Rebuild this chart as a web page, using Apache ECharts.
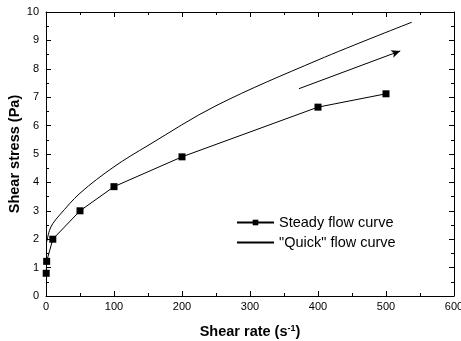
<!DOCTYPE html>
<html><head><meta charset="utf-8">
<script src="https://cdn.jsdelivr.net/npm/echarts@6/dist/echarts.min.js"></script>
<style>html,body{margin:0;padding:0;background:#fff}#c{width:461px;height:341px}</style>
</head><body><div id="c"></div>
<script>
const steadyX = [0.3, 1, 10, 50, 100, 200, 400, 500];
const steadyY = [0.8, 1.22, 2.0, 3.0, 3.85, 4.9, 6.65, 7.12];
const quickX = [1, 5, 10, 20, 50, 100, 150, 250, 400, 538];
const quickY = [1.9, 2.3, 2.55, 2.85, 3.62, 4.55, 5.3, 6.7, 8.31, 9.64];
const arrowStart = [372, 7.3];
const arrowEnd = [521, 8.63];
const xTicks = {min: 0, max: 600, interval: 100};
const yTicks = {min: 0, max: 10, interval: 1};
const names = ['Steady flow curve', '"Quick" flow curve'];

const F = 'Liberation Sans, Arial, sans-serif';
const chart = echarts.init(document.getElementById('c'), null, {renderer: 'canvas'});
const axBase = {
  axisLine: {show: true, onZero: false, lineStyle: {color: '#000', width: 1}},
  axisTick: {show: true, inside: true, length: 5, lineStyle: {color: '#000'}},
  minorTick: {show: true, splitNumber: 2, length: 3, lineStyle: {color: '#000'}},
  splitLine: {show: false}
};
chart.setOption({
  animation: false,
  textStyle: {fontFamily: F},
  grid: {left: 46, right: 7, top: 12, bottom: 45, containLabel: false, outerBoundsMode: 'none'},
  legend: {
    orient: 'vertical', left: 231, top: 210, itemWidth: 37, itemHeight: 7, itemGap: 5,
    textStyle: {fontSize: 14.5, color: '#000', fontFamily: F},
    data: [
      {name: names[0]},
      {name: names[1], itemStyle: {color: 'rgba(0,0,0,0)', borderWidth: 0, borderColor: 'rgba(0,0,0,0)'}}
    ]
  },
  xAxis: [
    Object.assign({}, axBase, {type: 'value', position: 'bottom', min: xTicks.min, max: xTicks.max, interval: xTicks.interval,
      axisLabel: {color: '#000', fontSize: 11, margin: 5, fontFamily: F},
      name: 'Shear rate (s{sup|-1})', nameLocation: 'middle', nameGap: 28, nameMoveOverlap: false,
      nameTextStyle: {fontSize: 14.5, fontWeight: 'bold', color: '#000', fontFamily: F,
        rich: {sup: {fontSize: 9, fontWeight: 'bold', color: '#000', fontFamily: F, padding: [0,0,7,0]}}}
    }),
    Object.assign({}, axBase, {type: 'value', position: 'top', min: xTicks.min, max: xTicks.max, interval: xTicks.interval,
      axisLabel: {show: false}})
  ],
  yAxis: [
    Object.assign({}, axBase, {type: 'value', position: 'left', min: yTicks.min, max: yTicks.max, interval: yTicks.interval,
      axisLabel: {color: '#000', fontSize: 11, margin: 7, fontFamily: F},
      name: 'Shear stress (Pa)', nameLocation: 'middle', nameGap: 24, nameMoveOverlap: false,
      nameTextStyle: {fontSize: 14.5, fontWeight: 'bold', color: '#000', fontFamily: F}
    }),
    Object.assign({}, axBase, {type: 'value', position: 'right', min: yTicks.min, max: yTicks.max, interval: yTicks.interval,
      axisLabel: {show: false}})
  ],
  series: [
    {
      name: names[0], type: 'line', xAxisIndex: 0, yAxisIndex: 0,
      data: steadyX.map((x, i) => [x, steadyY[i]]),
      symbol: 'rect', symbolSize: 7, showAllSymbol: true,
      lineStyle: {color: '#000', width: 1}, itemStyle: {color: '#000'},
      markLine: {
        silent: true, symbol: ['none', 'arrow'], symbolSize: [6, 9],
        lineStyle: {color: '#000', width: 1, type: 'solid'}, label: {show: false},
        data: [[{coord: arrowStart}, {coord: arrowEnd}]]
      }
    },
    {
      name: names[1], type: 'line', xAxisIndex: 0, yAxisIndex: 0,
      data: quickX.map((x, i) => [x, quickY[i]]),
      symbol: 'none', smooth: 0.35,
      lineStyle: {color: '#000', width: 1}, itemStyle: {color: '#000'}
    }
  ]
});
</script></body></html>
